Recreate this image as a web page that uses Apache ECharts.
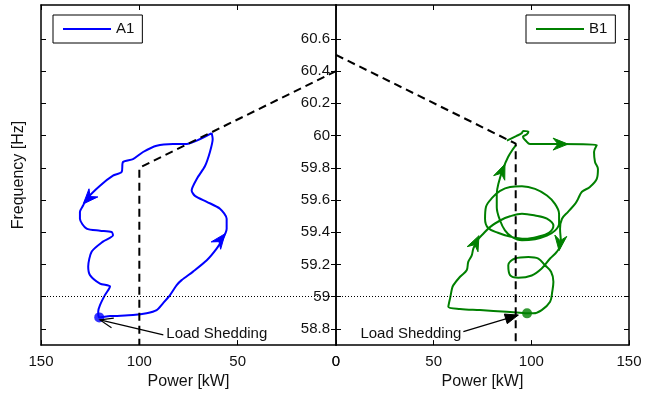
<!DOCTYPE html>
<html>
<head>
<meta charset="utf-8">
<script src="https://cdn.jsdelivr.net/npm/echarts@6/dist/echarts.min.js"></script>
<style>
  html, body { margin: 0; padding: 0; background: #fff; }
  #chart { width: 653px; height: 395px; }
</style>
</head>
<body>
<div id="chart"></div>
<script>
// ---- axis ticks ----
const powerTicks = [0, 50, 100, 150];
const freqTicks = [58.8, 59, 59.2, 59.4, 59.6, 59.8, 60, 60.2, 60.4, 60.6];
const freqMin = 58.7;
const freqMax = 60.81;
const shedThreshold = 59;

// ---- A1 trajectory (power kW, frequency Hz) ----
const a1Power = [63.2, 76.8, 82.9, 91.2, 98.1, 103.2, 108.3, 109.0, 113.4, 120.0,
  126.8, 128.6, 130.2, 130.2, 126.8, 120.0, 114.1, 113.4, 118.5, 124.2,
  126.0, 125.1, 120.0, 114.9, 117.5, 120.0, 120.9, 120.4, 114.9, 103.2,
  96.3, 91.2, 88.0, 84.4, 81.0, 78.5, 72.7, 65.7, 60.7, 57.5,
  55.6, 55.6, 59.0, 65.7, 71.7, 73.4, 70.8, 66.6, 64.1, 62.7, 63.2];
const a1Freq = [60.015, 59.947, 59.947, 59.937, 59.898, 59.854, 59.836, 59.774, 59.751, 59.689,
  59.607, 59.566, 59.527, 59.484, 59.422, 59.41, 59.402, 59.381, 59.342, 59.28,
  59.187, 59.134, 59.082, 59.064, 59.01, 58.948, 58.909, 58.872, 58.88, 58.886,
  58.897, 58.917, 58.959, 59.01, 59.072, 59.103, 59.156, 59.226, 59.298, 59.36,
  59.422, 59.484, 59.546, 59.589, 59.626, 59.659, 59.731, 59.811, 59.898, 59.978, 60.015];

// ---- B1 trajectory ----
const b1Power = [87.5, 92.5, 95.1, 95.9, 98.5, 97.6, 95.7, 97.3, 99.3, 114.7,
  133.5, 132.1, 132.6, 134.1, 133.5, 130.0, 125.9, 123.9, 122.4, 118.8,
  115.7, 114.7, 115.2, 113.1, 109.6, 105.3, 100.2, 93.3, 89.1, 88.2,
  91.6, 98.5, 103.6, 107.0, 110.1, 111.3, 110.7, 109.6, 105.3, 101.0,
  97.8, 94.2, 87.4, 73.7, 63.5, 57.5, 58.0, 58.4, 59.4, 60.1,
  63.5, 66.9, 67.7, 69.5, 70.3, 72.2, 75.4, 78.8, 84.0, 89.1,
  95.2, 101.9, 108.0, 111.3, 109.0, 103.4, 96.8, 89.1, 82.9, 77.8,
  76.3, 76.8, 79.9, 84.0, 89.1, 95.2, 101.9, 108.0, 112.1, 114.2,
  114.2, 112.1, 108.0, 101.9, 95.2, 90.0, 86.5, 84.0, 82.3, 82.3,
  83.1, 85.5, 88.1, 90.6, 92.2];
const b1Freq = [59.969, 59.998, 60.015, 60.029, 60.023, 60.006, 59.993, 59.966, 59.947, 59.947,
  59.941, 59.898, 59.836, 59.793, 59.731, 59.681, 59.651, 59.607, 59.576, 59.527,
  59.484, 59.422, 59.329, 59.28, 59.237, 59.175, 59.132, 59.118, 59.134, 59.195,
  59.237, 59.247, 59.237, 59.195, 59.155, 59.093, 59.031, 58.969, 58.917, 58.897,
  58.897, 58.901, 58.907, 58.917, 58.924, 58.938, 58.969, 58.99, 59.051, 59.072,
  59.124, 59.164, 59.216, 59.257, 59.298, 59.348, 59.391, 59.432, 59.473, 59.499,
  59.515, 59.504, 59.484, 59.44, 59.397, 59.373, 59.36, 59.373, 59.397, 59.428,
  59.484, 59.558, 59.613, 59.657, 59.681, 59.685, 59.669, 59.628, 59.576, 59.515,
  59.453, 59.41, 59.379, 59.357, 59.35, 59.371, 59.412, 59.473, 59.556, 59.638,
  59.7, 59.793, 59.867, 59.916, 59.941];

// ---- droop characteristics ----
const a1DroopPower = [0, 100, 100];
const a1DroopFreq = [60.4, 59.8, freqMin];
const b1DroopPower = [0, 92, 92];
const b1DroopFreq = [60.5, 59.95, freqMin];

// ---- load shedding instants ----
const a1Shed = [120.4, 58.872];
const b1Shed = [97.8, 58.897];

// ---- direction arrows along trajectories: [fromP, fromF, tipP, tipF] ----
const a1Arrows = [[120.0, 59.689, 128.5, 59.576], [63.05, 59.286, 56.4, 59.391]];
const b1Arrows = [[109.6, 59.947, 118.8, 59.947], [115.2, 59.391, 114.2, 59.286],
  [69.1, 59.274, 73.2, 59.379], [82.9, 59.718, 86.5, 59.823]];

// ---- "Load Shedding" callouts: [textAnchorP, textAnchorF, tipP, tipF] ----
const shedLabel = 'Load Shedding';
const a1Callout = [87.8, 58.763, 120.0, 58.856];
const b1Callout = [65.2, 58.784, 93.3, 58.886];

const FONT = "'Liberation Sans', Arial, Helvetica, sans-serif";
const BLUE = '#0000ff';
const GREEN = '#008000';
const zip = (xs, ys) => xs.map((x, i) => [x, ys[i]]);

function unitDir(from, tip) {
  const dx = tip[0] - from[0], dy = tip[1] - from[1];
  const d = Math.hypot(dx, dy) || 1;
  return [dx / d, dy / d];
}

// filled arrowhead with a concave back, pointing along the path
function pathArrow(color) {
  return function (params, api) {
    const from = api.coord([api.value(0), api.value(1)]);
    const tip = api.coord([api.value(2), api.value(3)]);
    const [ux, uy] = unitDir(from, tip);
    const nx = -uy, ny = ux;
    const L = 15, W = 6, N = 10;
    return {
      type: 'polygon',
      shape: { points: [
        tip,
        [tip[0] - ux * L + nx * W, tip[1] - uy * L + ny * W],
        [tip[0] - ux * N, tip[1] - uy * N],
        [tip[0] - ux * L - nx * W, tip[1] - uy * L - ny * W]
      ] },
      style: { fill: color, stroke: color, lineWidth: 1 }
    };
  };
}

// callout: text, leader line and arrowhead at the shedding point
function callout(open, textAlign, dx, dy) {
  return function (params, api) {
    const from = api.coord([api.value(0), api.value(1)]);
    const tip = api.coord([api.value(2), api.value(3)]);
    const [ux, uy] = unitDir(from, tip);
    const nx = -uy, ny = ux;
    const L = 13, W = 5;
    const b1 = [tip[0] - ux * L + nx * W, tip[1] - uy * L + ny * W];
    const b2 = [tip[0] - ux * L - nx * W, tip[1] - uy * L - ny * W];
    const head = open
      ? { type: 'polyline', shape: { points: [b1, tip, b2] },
          style: { stroke: '#000', lineWidth: 1.2, fill: null } }
      : { type: 'polygon', shape: { points: [tip, b1, b2] },
          style: { fill: '#000', stroke: '#000', lineWidth: 1 } };
    return {
      type: 'group',
      children: [
        { type: 'line', shape: { x1: from[0], y1: from[1], x2: tip[0], y2: tip[1] },
          style: { stroke: '#000', lineWidth: 1.2 } },
        head,
        { type: 'text', x: from[0] + dx, y: from[1] + dy,
          style: { text: shedLabel, font: '15px ' + FONT, fill: '#111',
                   align: textAlign, verticalAlign: 'middle' } }
      ]
    };
  };
}

const axisLineStyle = { color: '#000', width: 1.5 };
const tickStyle = { show: true, inside: true, length: 5, lineStyle: { color: '#000', width: 1 } };
const labelFont = { fontFamily: FONT, fontSize: 15, color: '#111' };

function powerAxis(grid, position, withLabels, inverse) {
  const ax = {
    type: 'value', gridIndex: grid, position: position, min: 0, max: 150, interval: 50,
    inverse: inverse,
    axisLine: { show: true, onZero: false, lineStyle: axisLineStyle },
    axisTick: tickStyle,
    axisLabel: Object.assign({ show: withLabels, margin: 9 }, labelFont),
    splitLine: { show: false }
  };
  if (withLabels) {
    Object.assign(ax, { name: 'Power [kW]', nameLocation: 'middle', nameGap: 28,
      nameTextStyle: { fontFamily: FONT, fontSize: 16, color: '#111' } });
  }
  return ax;
}

function freqAxis(grid, position, withLabels, extra) {
  return Object.assign({
    type: 'value', gridIndex: grid, position: position, min: freqMin, max: freqMax,
    axisLine: { show: true, onZero: false, lineStyle: axisLineStyle },
    axisTick: Object.assign({ customValues: freqTicks }, tickStyle),
    axisLabel: Object.assign({ show: withLabels, inside: true, margin: 6,
      customValues: freqTicks }, labelFont),
    splitLine: { show: false }
  }, extra || {});
}

const thresholdLine = {
  silent: true, symbol: 'none', label: { show: false },
  lineStyle: { color: '#000', width: 1, type: [1, 2] },
  data: [{ yAxis: shedThreshold }]
};

const option = {
  animation: false,
  backgroundColor: '#fff',
  grid: [
    { left: 41, top: 5, width: 295, height: 342 },
    { left: 336, top: 5, width: 293, height: 342 }
  ],
  xAxis: [
    powerAxis(0, 'bottom', true, true),
    powerAxis(0, 'top', false, true),
    powerAxis(1, 'bottom', true, false),
    powerAxis(1, 'top', false, false)
  ],
  yAxis: [
    freqAxis(0, 'left', false, { name: 'Frequency [Hz]', nameLocation: 'middle', nameGap: 14,
      nameTextStyle: { fontFamily: FONT, fontSize: 16, color: '#111' } }),
    freqAxis(0, 'right', true),
    freqAxis(1, 'left', false),
    freqAxis(1, 'right', false)
  ],
  legend: [
    { data: ['A1'], left: 53, top: 15, orient: 'horizontal', icon: 'rect',
      itemWidth: 48, itemHeight: 2, padding: [6, 8, 6, 10], borderColor: '#000', borderWidth: 1,
      backgroundColor: '#fff', textStyle: { fontFamily: FONT, fontSize: 15, color: '#111', lineHeight: 16 } },
    { data: ['B1'], left: 526, top: 15, orient: 'horizontal', icon: 'rect',
      itemWidth: 48, itemHeight: 2, padding: [6, 8, 6, 10], borderColor: '#000', borderWidth: 1,
      backgroundColor: '#fff', textStyle: { fontFamily: FONT, fontSize: 15, color: '#111', lineHeight: 16 } }
  ],
  series: [
    { name: 'A1', type: 'line', xAxisIndex: 0, yAxisIndex: 0, data: zip(a1Power, a1Freq),
      showSymbol: false, symbol: 'none', smooth: 0.25, color: BLUE, lineStyle: { width: 2, color: BLUE },
      markLine: thresholdLine, z: 3 },
    { name: 'A1 droop', type: 'line', xAxisIndex: 0, yAxisIndex: 0, data: zip(a1DroopPower, a1DroopFreq),
      showSymbol: false, symbol: 'none', lineStyle: { width: 2, color: '#000', type: [8, 5] }, z: 4 },
    { name: 'A1 shed', type: 'scatter', xAxisIndex: 0, yAxisIndex: 0, data: [a1Shed],
      symbolSize: 10, itemStyle: { color: BLUE }, z: 5 },
    { name: 'A1 dir', type: 'custom', xAxisIndex: 0, yAxisIndex: 0, data: a1Arrows,
      renderItem: pathArrow(BLUE), z: 5 },
    { name: 'A1 note', type: 'custom', xAxisIndex: 0, yAxisIndex: 0, data: [a1Callout],
      renderItem: callout(true, 'left', 3, -1), z: 6 },

    { name: 'B1', type: 'line', xAxisIndex: 2, yAxisIndex: 2, data: zip(b1Power, b1Freq),
      showSymbol: false, symbol: 'none', smooth: 0.35, color: GREEN, lineStyle: { width: 2, color: GREEN },
      markLine: thresholdLine, z: 3 },
    { name: 'B1 droop', type: 'line', xAxisIndex: 2, yAxisIndex: 2, data: zip(b1DroopPower, b1DroopFreq),
      showSymbol: false, symbol: 'none', lineStyle: { width: 2, color: '#000', type: [8, 5] }, z: 4 },
    { name: 'B1 shed', type: 'scatter', xAxisIndex: 2, yAxisIndex: 2, data: [b1Shed],
      symbolSize: 10, itemStyle: { color: GREEN }, z: 5 },
    { name: 'B1 dir', type: 'custom', xAxisIndex: 2, yAxisIndex: 2, data: b1Arrows,
      renderItem: pathArrow(GREEN), z: 5 },
    { name: 'B1 note', type: 'custom', xAxisIndex: 2, yAxisIndex: 2, data: [b1Callout],
      renderItem: callout(false, 'right', -2, 2.4), z: 6 }
  ]
};

const chart = echarts.init(document.getElementById('chart'), null, { renderer: 'canvas' });
chart.setOption(option);
</script>
</body>
</html>
